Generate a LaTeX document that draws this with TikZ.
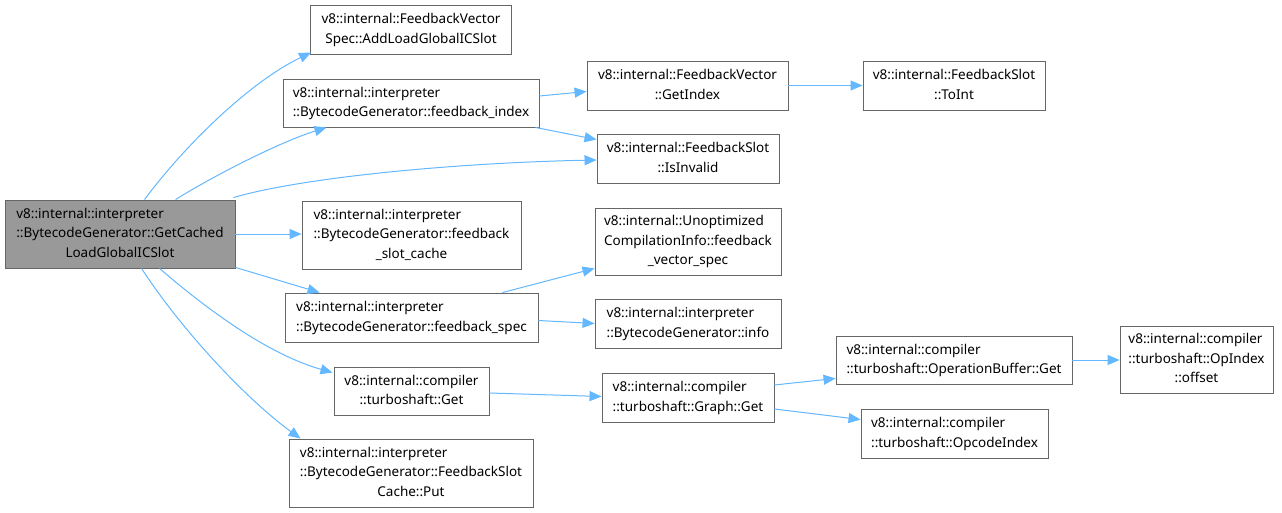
\documentclass[tikz,border=0pt]{standalone}
\usepackage{fontspec}
\setmainfont{Noto Sans}
\usetikzlibrary{arrows.meta}
\definecolor{edgeblue}{HTML}{63B8FF}
\definecolor{boxline}{HTML}{666666}
\definecolor{mainfill}{HTML}{999999}
% left-aligned block of lines; \ctrline centres a line inside the block
\newcommand\blocklines[1]{\begin{tabular}{@{}l@{}}#1\end{tabular}}
\newcommand\ctrline[1]{\multicolumn{1}{@{}c@{}}{#1}}
\begin{document}
\begin{tikzpicture}[x=1pt,y=-1pt,
  every node/.style={font=\fontsize{13.5}{19.5}\selectfont, inner sep=0pt},
  fbox/.style={draw=boxline, fill=white, line width=0.9pt},
  mainbox/.style={draw=boxline, fill=mainfill, line width=0.9pt},
  link/.style={draw=edgeblue, line width=1pt, -{Triangle[length=12pt,width=10pt]}}]
\useasboundingbox[fill=white] (0,0) rectangle (1282,513);

% nodes: centre, width, height
\node[mainbox, minimum width=230, minimum height=68] (m) at (120,234)
  {\blocklines{v8::internal::interpreter\\::BytecodeGenerator::GetCached\\\ctrline{LoadGlobalICSlot}}};
\node[fbox, minimum width=201, minimum height=49] (n1) at (411,29.5)
  {\blocklines{v8::internal::FeedbackVector\\\ctrline{Spec::AddLoadGlobalICSlot}}};
\node[fbox, minimum width=256, minimum height=48] (n2) at (411,103)
  {\blocklines{v8::internal::interpreter\\::BytecodeGenerator::feedback\_index}};
\node[fbox, minimum width=201, minimum height=49] (n3) at (687.5,85.5)
  {\blocklines{v8::internal::FeedbackVector\\\ctrline{::GetIndex}}};
\node[fbox, minimum width=182, minimum height=49] (n4) at (688,158.5)
  {\blocklines{v8::internal::FeedbackSlot\\\ctrline{::IsInvalid}}};
\node[fbox, minimum width=182, minimum height=49] (n5) at (954,85.5)
  {\blocklines{v8::internal::FeedbackSlot\\\ctrline{::ToInt}}};
\node[fbox, minimum width=219, minimum height=68] (n6) at (411.5,235)
  {\blocklines{v8::internal::interpreter\\::BytecodeGenerator::feedback\\\ctrline{\_slot\_cache}}};
\node[fbox, minimum width=253, minimum height=49] (n7) at (411.5,317.5)
  {\blocklines{v8::internal::interpreter\\::BytecodeGenerator::feedback\_spec}};
\node[fbox, minimum width=155, minimum height=48] (n8) at (411.5,391)
  {\blocklines{v8::internal::compiler\\\ctrline{::turboshaft::Get}}};
\node[fbox, minimum width=244, minimum height=68] (n9) at (411,473)
  {\blocklines{v8::internal::interpreter\\::BytecodeGenerator::FeedbackSlot\\\ctrline{Cache::Put}}};
\node[fbox, minimum width=186, minimum height=67] (n10) at (688,241.5)
  {\blocklines{v8::internal::Unoptimized\\CompilationInfo::feedback\\\ctrline{\_vector\_spec}}};
\node[fbox, minimum width=186, minimum height=49] (n11) at (688,323.5)
  {\blocklines{v8::internal::interpreter\\::BytecodeGenerator::info}};
\node[fbox, minimum width=172, minimum height=49] (n12) at (688,397.5)
  {\blocklines{v8::internal::compiler\\::turboshaft::Graph::Get}};
\node[fbox, minimum width=236, minimum height=48] (n13) at (954,360)
  {\blocklines{v8::internal::compiler\\::turboshaft::OperationBuffer::Get}};
\node[fbox, minimum width=187, minimum height=49] (n14) at (954.5,433.5)
  {\blocklines{v8::internal::compiler\\::turboshaft::OpcodeIndex}};
\node[fbox, minimum width=153, minimum height=67] (n15) at (1196.5,359.5)
  {\blocklines{v8::internal::compiler\\::turboshaft::OpIndex\\\ctrline{::offset}}};

% calls from the main function
\draw[link] ([shift={(140,0)}]m.north west) .. controls (185,145) and (250,82) .. ([shift={(1,-2)}]n1.south west);
\draw[link] ([shift={(171,0)}]m.north west) .. controls (215,175) and (280,142) .. ([shift={(44,0)}]n2.south west);
\draw[link] ([shift={(-2,-2)}]m.north east) .. controls (300,178) and (450,163) .. ([shift={(0,1.5)}]n4.west);
\draw[link] (m.east) -- (m.east -| n6.west);
\draw[link] ([shift={(0,-1)}]m.south east) -- ([shift={(35,0)}]n7.north west);
\draw[link] ([shift={(155,0)}]m.south west) .. controls (210,312) and (270,355) .. ([shift={(-1,6)}]n8.north west);
\draw[link] ([shift={(137,0)}]m.south west) .. controls (185,335) and (250,402) .. ([shift={(12,0)}]n9.north west);

% second level
\draw[link] ([shift={(0,-7)}]n2.east) -- ([shift={(0,6)}]n3.west);
\draw[link] ([shift={(-4,0)}]n2.south east) -- ([shift={(0,6)}]n4.north west);
\draw[link] (n3.east) -- (n5.west);
\draw[link] ([shift={(-36,0)}]n7.north east) -- ([shift={(0,-7)}]n10.south west);
\draw[link] ([shift={(0,3)}]n7.east) -- (n11.west);
\draw[link] ([shift={(0,2)}]n8.east) -- ([shift={(0,-1)}]n12.west);
\draw[link] ([shift={(0,-12.5)}]n12.east) -- ([shift={(0,-6)}]n13.south west);
\draw[link] ([shift={(0,11.5)}]n12.east) -- ([shift={(0,11)}]n14.north west);
\draw[link] (n13.east) -- (n13.east -| n15.west);
\end{tikzpicture}
\end{document}
